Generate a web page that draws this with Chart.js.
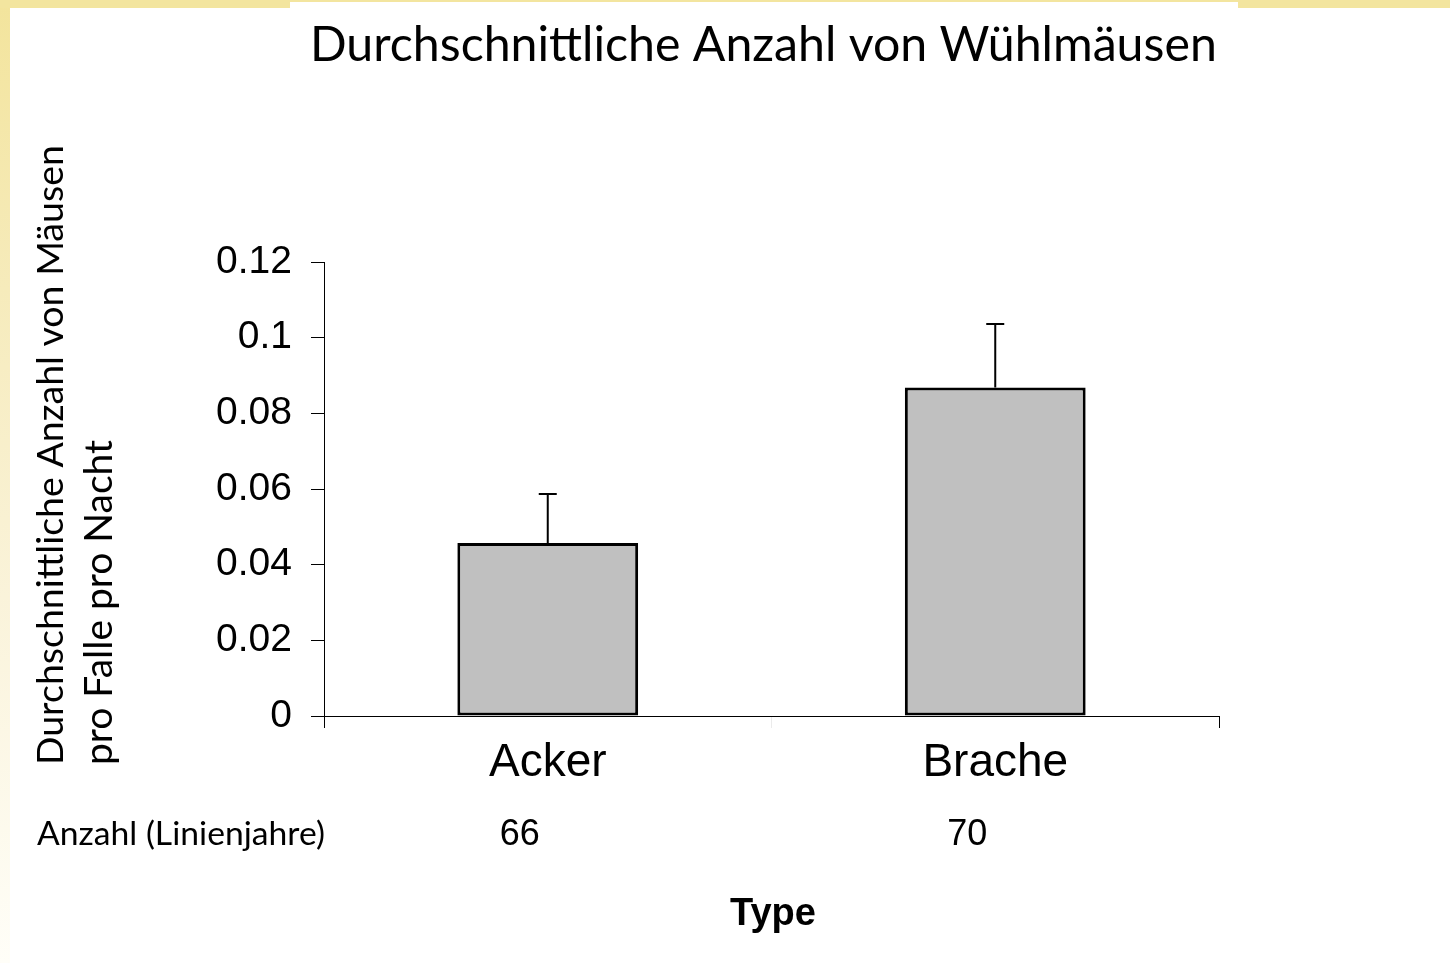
<!DOCTYPE html>
<html>
<head>
<meta charset="utf-8">
<script src="https://cdn.jsdelivr.net/npm/chart.js@4.4.1/dist/chart.umd.min.js"></script>
<style>
  html, body { margin: 0; padding: 0; background: #ffffff; }
  #wrap { position: relative; width: 1450px; height: 963px; overflow: hidden; }
  .strip { position: absolute; background: #F3E59F; }
  #left { left: 0; top: 0; width: 10px; height: 963px; background: linear-gradient(to bottom, #F3E49C 0%, #F6EBBB 30%, #FAF3DA 62%, #FFFEF8 100%); }
  #topL { left: 0; top: 0; width: 290px; height: 8px; }
  #topM { left: 290px; top: 0; width: 948px; height: 2px; }
  #topR { left: 1238px; top: 0; width: 212px; height: 8px; }
  canvas { position: absolute; left: 0; top: 0; }
</style>
</head>
<body>
<div id="wrap">
  <div class="strip" id="left"></div>
  <div class="strip" id="topL"></div>
  <div class="strip" id="topM"></div>
  <div class="strip" id="topR"></div>
  <canvas id="c" width="1450" height="963"></canvas>
</div>
<script>
const chartTitle = 'Durchschnittliche Anzahl von Wühlmäusen';
const yTitleLines = ['Durchschnittliche Anzahl von Mäusen', 'pro Falle pro Nacht'];
const xTitle = 'Type';
const sampleLabel = 'Anzahl (Linienjahre)';
const categories = ['Acker', 'Brache'];
const meanValues = [0.0457, 0.0868];
const errorValues = [0.0130, 0.0168];
const sampleSizes = ['66', '70'];
const yMin = 0, yMax = 0.12, yStep = 0.02;

const humanist = 'Lato, "Noto Sans", "DejaVu Sans", sans-serif';
const arial = '"Liberation Sans", Arial, sans-serif';

function fitFont(ctx, text, family, weight, targetW) {
  ctx.font = weight + ' 100px ' + family;
  const w = ctx.measureText(text).width;
  const size = 100 * targetW / w;
  return weight + ' ' + size.toFixed(2) + 'px ' + family;
}

const errorBarPlugin = {
  id: 'errorBars',
  afterDatasetsDraw(chart) {
    const ctx = chart.ctx;
    const meta = chart.getDatasetMeta(0);
    const ys = chart.scales.y;
    ctx.save();
    ctx.strokeStyle = '#000';
    ctx.lineWidth = 2;
    meta.data.forEach((bar, i) => {
      const x = bar.x;
      const y0 = ys.getPixelForValue(meanValues[i]);
      const y1 = ys.getPixelForValue(meanValues[i] + errorValues[i]);
      ctx.beginPath();
      ctx.moveTo(x, y0);
      ctx.lineTo(x, y1);
      ctx.moveTo(x - 9, y1);
      ctx.lineTo(x + 9, y1);
      ctx.stroke();
    });
    ctx.restore();
  }
};

const textPlugin = {
  id: 'texts',
  afterDraw(chart) {
    const ctx = chart.ctx;
    const xs = chart.scales.x;
    ctx.save();
    ctx.fillStyle = '#000';
    ctx.textBaseline = 'alphabetic';

    // main title
    ctx.font = fitFont(ctx, chartTitle, humanist, 'normal', 907);
    ctx.textAlign = 'left';
    ctx.fillText(chartTitle, 310, 61);

    // y axis title (rotated)
    const yTargets = [620, 325];
    const yBase = [63, 112];
    yTitleLines.forEach((line, i) => {
      ctx.save();
      ctx.translate(yBase[i], 765);
      ctx.rotate(-Math.PI / 2);
      ctx.font = fitFont(ctx, line, humanist, 'normal', yTargets[i]);
      ctx.textAlign = 'left';
      ctx.fillText(line, 0, 0);
      ctx.restore();
    });

    // sample size row
    ctx.font = fitFont(ctx, sampleLabel, humanist, 'normal', 288);
    ctx.textAlign = 'left';
    ctx.fillText(sampleLabel, 37, 845);
    ctx.font = '36px ' + arial;
    ctx.textAlign = 'center';
    sampleSizes.forEach((s, i) => {
      ctx.fillText(s, xs.getPixelForValue(i) - 28, 845);
    });

    // x axis title
    ctx.font = 'bold 38px ' + arial;
    ctx.textAlign = 'center';
    ctx.fillText(xTitle, 773, 925);
    ctx.restore();
  }
};

new Chart(document.getElementById('c'), {
  type: 'bar',
  data: {
    labels: categories,
    datasets: [{
      data: meanValues,
      backgroundColor: '#C0C0C0',
      borderColor: '#000000',
      borderWidth: 3,
      borderSkipped: false,
      categoryPercentage: 1.0,
      barPercentage: 0.404
    }]
  },
  options: {
    responsive: false,
    animation: false,
    devicePixelRatio: 1,
    layout: { padding: { top: 262, right: 231, bottom: 0, left: 0 } },
    plugins: { legend: { display: false }, tooltip: { enabled: false }, title: { display: false } },
    scales: {
      x: {
        type: 'category',
        offset: true,
        afterFit(scale) { scale.height = 247; },
        grid: {
          display: true,
          drawOnChartArea: false,
          drawTicks: true,
          tickLength: 12,
          offset: true,
          color: (c) => (c.index === 1 ? 'rgba(0,0,0,0.08)' : '#000'),
          lineWidth: 1
        },
        border: { display: true, color: '#000', width: 1 },
        ticks: {
          color: '#000',
          padding: 8,
          font: { family: arial, size: 46 },
          maxRotation: 0,
          autoSkip: false
        }
      },
      y: {
        min: yMin,
        max: yMax,
        afterFit(scale) { scale.width = 324; },
        grid: {
          display: true,
          drawOnChartArea: false,
          drawTicks: true,
          tickLength: 13,
          color: '#000',
          lineWidth: 1
        },
        border: { display: true, color: '#000', width: 1 },
        ticks: {
          stepSize: yStep,
          color: '#000',
          padding: 19,
          font: { family: arial, size: 39 },
          callback: (v) => String(parseFloat(Number(v).toFixed(2)))
        }
      }
    }
  },
  plugins: [errorBarPlugin, textPlugin]
});
</script>
</body>
</html>
